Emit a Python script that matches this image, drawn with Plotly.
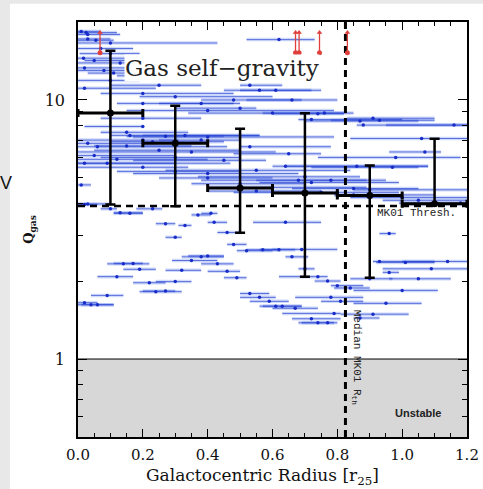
import plotly.graph_objects as go
import numpy as np

# ---------------- data ----------------
# individual galaxy radial profiles: point x, Q value, segment x-extent (low, high)
pt_x = [0.01, 0.025, 0.03, 0.03, 0.055, 0.62, 0.10, 0.07, 0.10, 0.017, 0.05, 0.13, 0.02, 0.08, 0.11, 0.17,
        0.53, 0.10, 0.56, 0.61, 0.25, 0.02, 0.20, 0.66, 0.30, 0.48, 0.20, 0.38, 0.50, 0.40, 0.76, 0.60,
        0.74, 0.20, 0.91, 0.72, 0.87, 0.93, 0.88, 1.16, 0.20, 0.15, 0.16, 0.27, 0.33, 0.40, 0.20, 0.38,
        0.23, 1.06, 0.06, 0.15, 0.53, 0.35, 1.07, 0.65, 0.98, 0.30, 0.45, 0.02, 0.09, 0.64, 0.86, 0.97,
        0.20, 0.55, 0.40, 0.70, 0.68, 0.78, 0.72, 0.01, 0.60, 0.85, 0.90, 0.75, 0.85, 1.00, 1.05, 1.18,
        1.10, 0.03, 0.02, 0.10, 0.16, 0.13, 0.23, 0.37, 0.41, 0.42, 0.27, 0.33, 0.64, 0.46, 0.96, 0.30,
        0.48, 0.52, 0.57, 0.62, 0.69, 0.66, 0.38, 0.40, 0.35, 0.14, 0.17, 0.43, 0.93, 1.01, 1.14, 0.19,
        0.32, 0.46, 0.70, 1.09, 0.96, 0.12, 0.49, 0.74, 0.90, 1.05, 0.22, 0.30, 0.77, 0.80, 0.84, 1.00,
        0.24, 0.27, 0.53, 0.09, 0.78, 0.56, 0.59, 0.81, 0.95, 0.61, 0.63, 0.67, 0.79, 0.91, 0.87, 0.72,
        0.74, 0.77, 0.02, 0.04, 0.06, 0.05, 0.12, 0.25, 0.03, 0.30, 0.40, 0.50, 0.55]
pt_q = [18.4, 18.2, 17.9, 17.2, 17.0, 17.1, 16.6, 15.8, 15.1, 14.5, 14.2, 13.9, 13.3, 13.0, 12.7, 12.4,
        11.4, 11.9, 10.9, 10.9, 11.4, 11.1, 10.6, 10.0, 10.3, 10.0, 9.7, 9.7, 9.3, 9.1, 8.9, 8.9,
        8.85, 8.5, 8.5, 8.4, 8.3, 8.35, 8.0, 8.0, 7.9, 7.5, 7.3, 7.25, 7.3, 7.2, 7.0, 7.0,
        6.9, 7.1, 6.6, 6.65, 6.6, 6.3, 6.3, 6.2, 6.0, 6.0, 5.85, 5.7, 5.7, 5.55, 5.55, 5.5,
        5.5, 5.35, 5.2, 5.05, 4.9, 4.9, 4.8, 4.7, 4.6, 4.55, 4.5, 4.4, 4.3, 4.2, 4.1, 4.0,
        3.95, 3.97, 3.95, 3.8, 3.65, 3.67, 3.8, 3.6, 3.65, 3.37, 3.33, 3.28, 3.37, 3.08, 3.05, 2.95,
        2.77, 2.62, 2.64, 2.64, 2.65, 2.48, 2.48, 2.5, 2.4, 2.33, 2.34, 2.33, 2.38, 2.36, 2.38, 2.22,
        2.2, 2.18, 2.23, 2.23, 2.16, 2.08, 2.06, 2.08, 2.04, 2.04, 1.97, 1.99, 2.0, 1.92, 1.88, 1.84,
        1.82, 1.83, 1.79, 1.76, 1.73, 1.73, 1.67, 1.67, 1.64, 1.6, 1.6, 1.57, 1.5, 1.49, 1.44, 1.43,
        1.38, 1.38, 1.65, 1.62, 1.62, 6.1, 5.9, 6.4, 6.8, 5.3, 5.0, 4.75, 4.45]
seg_lo = [0.0, 0.0, 0.0, 0.0, 0.0, 0.52, 0.0, 0.0, 0.005, 0.0, 0.02, 0.0, 0.0, 0.0, 0.03, 0.12,
          0.50, 0.0, 0.50, 0.45, 0.10, 0.0, 0.07, 0.52, 0.19, 0.38, 0.12, 0.25, 0.30, 0.15, 0.57, 0.34,
          0.60, 0.07, 0.83, 0.68, 0.70, 0.78, 0.86, 0.95, 0.02, 0.07, 0.10, 0.15, 0.20, 0.17, 0.0, 0.25,
          0.10, 0.84, 0.0, 0.05, 0.50, 0.0, 0.96, 0.48, 0.74, 0.07, 0.17, 0.0, 0.0, 0.64, 0.60, 0.72,
          0.0, 0.27, 0.17, 0.37, 0.38, 0.55, 0.56, 0.0, 0.40, 0.66, 0.85, 0.48, 0.79, 0.84, 0.94, 0.99,
          1.00, 0.0, 0.0, 0.07, 0.11, 0.11, 0.18, 0.35, 0.38, 0.40, 0.24, 0.31, 0.54, 0.43, 0.93, 0.27,
          0.46, 0.49, 0.52, 0.56, 0.60, 0.64, 0.32, 0.34, 0.29, 0.09, 0.11, 0.38, 0.91, 0.92, 1.00, 0.14,
          0.27, 0.40, 0.68, 0.94, 0.94, 0.06, 0.45, 0.62, 0.84, 0.96, 0.17, 0.24, 0.73, 0.78, 0.79, 0.85,
          0.19, 0.20, 0.50, 0.04, 0.67, 0.50, 0.53, 0.75, 0.85, 0.56, 0.57, 0.60, 0.63, 0.81, 0.85, 0.66,
          0.68, 0.69, 0.0, 0.0, 0.01, 0.0, 0.0, 0.05, 0.0, 0.12, 0.25, 0.35, 0.40]
seg_hi = [0.07, 0.12, 0.13, 0.10, 0.11, 0.73, 0.43, 0.17, 0.19, 0.15, 0.16, 0.24, 0.45, 0.17, 0.20, 0.32,
          0.63, 0.19, 0.75, 0.72, 0.38, 0.24, 0.48, 0.80, 0.60, 0.69, 0.48, 0.50, 0.55, 0.79, 0.85, 0.82,
          0.82, 0.38, 1.10, 1.00, 1.05, 1.10, 1.20, 1.20, 0.20, 0.34, 0.56, 0.45, 0.56, 0.79, 0.31, 0.50,
          0.45, 1.20, 0.46, 0.35, 0.78, 0.61, 1.12, 0.75, 1.18, 0.50, 0.58, 0.47, 0.30, 1.08, 1.08, 1.05,
          0.34, 0.84, 0.68, 0.87, 0.89, 0.95, 0.99, 0.04, 0.89, 1.05, 1.20, 0.99, 1.10, 1.20, 1.20, 1.20,
          1.20, 0.10, 0.06, 0.12, 0.20, 0.20, 0.26, 0.41, 0.43, 0.46, 0.30, 0.35, 0.75, 0.50, 0.98, 0.32,
          0.52, 0.60, 0.62, 0.67, 0.80, 0.71, 0.45, 0.45, 0.43, 0.22, 0.20, 0.48, 1.10, 1.10, 1.20, 0.24,
          0.38, 0.50, 0.73, 1.20, 0.99, 0.17, 0.52, 0.77, 0.97, 1.15, 0.27, 0.35, 0.81, 0.88, 0.90, 1.11,
          0.32, 0.30, 0.59, 0.14, 0.88, 0.61, 0.65, 0.88, 1.06, 0.69, 0.69, 0.74, 0.81, 1.02, 0.93, 0.81,
          0.79, 0.80, 0.06, 0.11, 0.11, 0.30, 0.40, 0.50, 0.25, 0.50, 0.60, 0.70, 0.75]

# binned medians
bin_x = [0.1, 0.3, 0.5, 0.7, 0.9, 1.1]
bin_q = [8.9, 6.8, 4.57, 4.37, 4.28, 3.98]
bin_q_hi = [15.5, 9.5, 7.74, 8.88, 5.58, 7.08]
bin_q_lo = [3.95, 3.89, 3.07, 2.08, 2.06, 3.98]
bin_halfwidth = [0.1, 0.1, 0.1, 0.1, 0.1, 0.1]

# lower limits (red arrows)
lim_x = [0.068, 0.671, 0.682, 0.745, 0.831]
lim_q = [15.2, 15.2, 15.2, 15.2, 15.2]
lim_tip = [18.2, 18.2, 18.2, 18.2, 18.2]

mk01_thresh = 3.9
median_rth = 0.825
unstable_q = [0.5, 1.0]
x_range = [0.0, 1.2]
q_range = [0.5, 20.0]

# ---------------- figure ----------------
pt_x_a = np.array(pt_x)
fig = go.Figure()

# unstable region
fig.add_trace(go.Scatter(
    x=[x_range[0], x_range[1], x_range[1], x_range[0], x_range[0]],
    y=[unstable_q[0], unstable_q[0], unstable_q[1], unstable_q[1], unstable_q[0]],
    mode="lines", fill="toself", fillcolor="#d7d7d7", line=dict(width=0),
    hoverinfo="skip", showlegend=False))

err_plus = np.array(seg_hi) - pt_x_a
err_minus = pt_x_a - np.array(seg_lo)

fig.add_trace(go.Scatter(
    x=pt_x, y=pt_q, mode="markers",
    marker=dict(size=0.1, color="rgba(0,0,0,0)"),
    error_x=dict(type="data", symmetric=False, array=err_plus, arrayminus=err_minus,
                 color="rgba(110,140,235,0.32)", thickness=3.5, width=0),
    hoverinfo="skip", showlegend=False))
fig.add_trace(go.Scatter(
    x=pt_x, y=pt_q, mode="markers",
    marker=dict(size=3.5, color="rgb(25,45,200)"),
    error_x=dict(type="data", symmetric=False, array=err_plus, arrayminus=err_minus,
                 color="rgba(40,65,210,0.7)", thickness=1, width=0),
    showlegend=False))

# threshold lines
fig.add_trace(go.Scatter(x=x_range, y=[mk01_thresh, mk01_thresh], mode="lines",
                         line=dict(color="black", width=2.5, dash="7px,5px"), showlegend=False))
fig.add_trace(go.Scatter(x=[median_rth, median_rth], y=q_range, mode="lines",
                         line=dict(color="black", width=3, dash="7px,5px"), showlegend=False))
fig.add_trace(go.Scatter(x=x_range, y=[unstable_q[1], unstable_q[1]], mode="lines",
                         line=dict(color="black", width=1), showlegend=False))

# binned points
bq = np.array(bin_q)
fig.add_trace(go.Scatter(
    x=bin_x, y=bin_q, mode="markers",
    marker=dict(size=7, color="black"),
    error_x=dict(type="data", array=bin_halfwidth, color="black", thickness=3, width=4),
    error_y=dict(type="data", symmetric=False, array=np.array(bin_q_hi) - bq,
                 arrayminus=bq - np.array(bin_q_lo), color="black", thickness=2.5, width=5),
    showlegend=False))

# lower-limit arrows
ax_x, ax_y = [], []
for x, b, t in zip(lim_x, lim_q, lim_tip):
    ax_x += [x, x, None]
    ax_y += [b, t, None]
fig.add_trace(go.Scatter(x=ax_x, y=ax_y, mode="lines", line=dict(color="#e0403c", width=1.3),
                         showlegend=False))
fig.add_trace(go.Scatter(x=lim_x, y=lim_q, mode="markers",
                         marker=dict(size=5, color="#e0403c"), showlegend=False))
fig.add_trace(go.Scatter(x=lim_x, y=lim_tip, mode="markers",
                         marker=dict(size=5, color="#e0403c", symbol="triangle-up"), showlegend=False))

# panel background (slide)
fig.add_shape(type="rect", xref="paper", yref="paper", x0=-0.175, x1=1.05, y0=-0.14, y1=1.044,
              fillcolor="white", line_width=0, layer="below")

serif = "DejaVu Serif"
mono = "Liberation Mono"
fig.add_annotation(text="Gas self\u2212gravity", xref="paper", yref="paper", x=0.37, y=0.889,
                   xanchor="center", yanchor="middle",
                   showarrow=False, font=dict(family=serif, size=23, color="#222"),
                   bgcolor="white", borderpad=0)
fig.add_annotation(text="MK01 Thresh.", xref="paper", yref="paper", x=0.869, y=0.540,
                   xanchor="center", yanchor="middle",
                   showarrow=False, font=dict(family=mono, size=11, color="#222"))
fig.add_annotation(text="Median MK01 R<sub>th</sub>", xref="paper", yref="paper", x=0.715, y=0.193,
                   xanchor="center", yanchor="middle", textangle=90, showarrow=False,
                   font=dict(family=mono, size=11, color="#222"))
fig.add_annotation(text="<b>Unstable</b>", xref="paper", yref="paper", x=0.874, y=0.058,
                   xanchor="center", yanchor="middle",
                   showarrow=False, font=dict(family="Liberation Sans", size=11, color="#222"))
fig.add_annotation(text="V", xref="paper", yref="paper", x=-0.184, y=0.612,
                   xanchor="center", yanchor="middle",
                   showarrow=False, font=dict(family="Liberation Sans", size=18, color="#111"))
# x-axis title (placed explicitly)
fig.add_annotation(text="Galactocentric Radius [r<sub>25</sub>]", xref="paper", yref="paper",
                   x=0.474, y=-0.1245, xanchor="center", yanchor="bottom", showarrow=False,
                   font=dict(family=serif, size=17, color="#111"), borderpad=0)

fig.update_xaxes(
    range=x_range, showline=True, linecolor="black", linewidth=1.5, mirror="ticks",
    ticks="inside", ticklen=8, tickwidth=1.2, tickcolor="black",
    tickvals=[0.0, 0.2, 0.4, 0.6, 0.8, 1.0, 1.2], ticktext=["0.0", "0.2", "0.4", "0.6", "0.8", "1.0", "1.2"],
    minor=dict(dtick=0.05, tick0=0, ticks="inside", ticklen=4, tickcolor="black", tickwidth=1),
    showgrid=False, zeroline=False, automargin=False,
    tickfont=dict(family=serif, size=15, color="#111"),
    ticklabelstandoff=3)
fig.update_yaxes(
    type="log", range=[np.log10(q_range[0]), np.log10(q_range[1])],
    showline=True, linecolor="black", linewidth=1.5, mirror="ticks",
    ticks="inside", ticklen=9, tickwidth=1.2, tickcolor="black",
    tickvals=[1, 10], ticktext=["1", "10"],
    minor=dict(tickvals=[0.6, 0.7, 0.8, 0.9, 2, 3, 4, 5, 6, 7, 8, 9], ticks="inside", ticklen=5,
               tickcolor="black", tickwidth=1),
    showgrid=False, zeroline=False, automargin=False,
    tickfont=dict(family=serif, size=16, color="#111"),
    ticklabelstandoff=8,
    title=dict(text="<b>Q<sub>gas</sub></b>", font=dict(family=serif, size=13, color="#111"), standoff=8))

fig.update_layout(
    width=483, height=489,
    margin=dict(l=78, r=16, t=22, b=52),
    paper_bgcolor="#e8e8e8", plot_bgcolor="white",
    showlegend=False)

fig.write_html("out.html")
